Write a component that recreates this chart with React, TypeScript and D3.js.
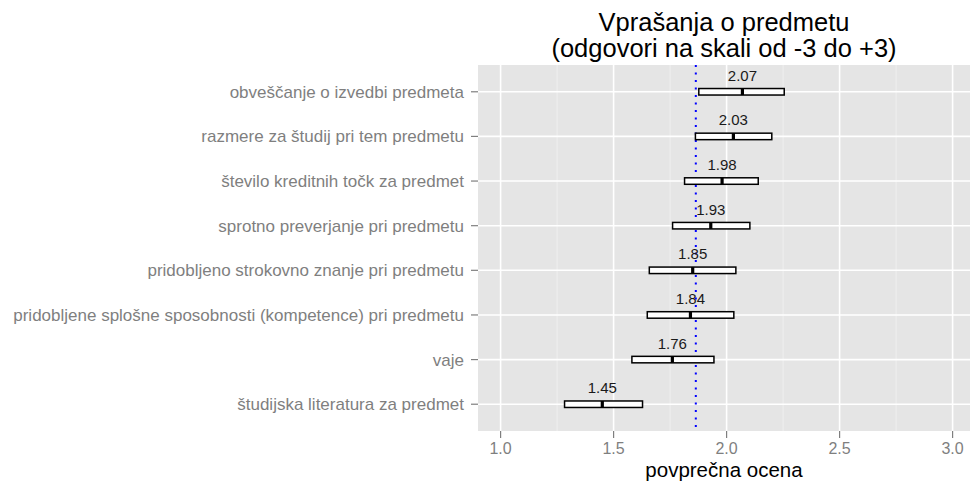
import React from "react";
import * as d3 from "d3";

const categories = [
  "obveščanje o izvedbi predmeta",
  "razmere za študij pri tem predmetu",
  "število kreditnih točk za predmet",
  "sprotno preverjanje pri predmetu",
  "pridobljeno strokovno znanje pri predmetu",
  "pridobljene splošne sposobnosti (kompetence) pri predmetu",
  "vaje",
  "študijska literatura za predmet",
];
const means = [2.07, 2.03, 1.98, 1.93, 1.85, 1.84, 1.76, 1.45];
const lower = [1.877, 1.862, 1.814, 1.761, 1.658, 1.649, 1.581, 1.283];
const upper = [2.255, 2.2, 2.14, 2.103, 2.041, 2.032, 1.944, 1.628];
const xTicks = [1.0, 1.5, 2.0, 2.5, 3.0];
const xMinor = [1.25, 1.75, 2.25, 2.75];
const titleLines = ["Vprašanja o predmetu", "(odgovori na skali od -3 do +3)"];
const xLabel = "povprečna ocena";

const W = 970;
const H = 482;
const panel = { left: 478, right: 970, top: 65, bottom: 431 };
const FONT = "'Liberation Sans', Arial, Helvetica, sans-serif";

export default function App() {
  const x = d3.scaleLinear().domain([0.9, 3.077]).range([panel.left, panel.right]);
  const y = d3.scalePoint<string>().domain(categories).range([panel.top, panel.bottom]).padding(0.6);
  const overall = d3.mean(means) as number;
  const boxH = 6.5;
  const cx = (panel.left + panel.right) / 2;

  return (
    <svg width={W} height={H} style={{ position: "absolute", left: 0, top: 0, background: "#fff" }} fontFamily={FONT}>
      <rect x={panel.left} y={panel.top} width={panel.right - panel.left} height={panel.bottom - panel.top} fill="#E5E5E5" />
      {xMinor.map((v) => (
        <line key={"mn" + v} x1={x(v)} x2={x(v)} y1={panel.top} y2={panel.bottom} stroke="#F2F2F2" strokeWidth={0.8} />
      ))}
      {xTicks.map((v) => (
        <line key={"mj" + v} x1={x(v)} x2={x(v)} y1={panel.top} y2={panel.bottom} stroke="#FFFFFF" strokeWidth={1.6} />
      ))}
      {categories.map((c) => (
        <line key={"hg" + c} x1={panel.left} x2={panel.right} y1={y(c)} y2={y(c)} stroke="#FFFFFF" strokeWidth={1.6} />
      ))}
      <line x1={x(overall)} x2={x(overall)} y1={panel.top} y2={panel.bottom} stroke="#0000FF" strokeWidth={2} strokeDasharray="2,5.5" />
      {categories.map((c, i) => {
        const cy = y(c) as number;
        return (
          <g key={"b" + c}>
            <rect x={x(lower[i])} y={cy - boxH / 2} width={x(upper[i]) - x(lower[i])} height={boxH} fill="#FFFFFF" stroke="#000" strokeWidth={1.5} />
            <line x1={x(means[i])} x2={x(means[i])} y1={cy - boxH / 2} y2={cy + boxH / 2} stroke="#000" strokeWidth={3.2} />
            <text x={x(means[i])} y={cy - 11} textAnchor="middle" fontSize={15} fill="#1A1A1A">
              {means[i].toFixed(2)}
            </text>
          </g>
        );
      })}
      {xTicks.map((v) => (
        <g key={"xt" + v}>
          <line x1={x(v)} x2={x(v)} y1={panel.bottom} y2={panel.bottom + 7} stroke="#7F7F7F" strokeWidth={1.2} />
          <text x={x(v)} y={panel.bottom + 23} textAnchor="middle" fontSize={16} fill="#7F7F7F">
            {v.toFixed(1)}
          </text>
        </g>
      ))}
      {categories.map((c) => (
        <g key={"yt" + c}>
          <line x1={panel.left - 7} x2={panel.left} y1={y(c)} y2={y(c)} stroke="#7F7F7F" strokeWidth={1.2} />
          <text x={panel.left - 14} y={(y(c) as number) + 6} textAnchor="end" fontSize={17} fill="#7F7F7F">
            {c}
          </text>
        </g>
      ))}
      <text x={cx} y={477} textAnchor="middle" fontSize={20.5} fill="#000">
        {xLabel}
      </text>
      {titleLines.map((t, i) => (
        <text key={"t" + i} x={cx} y={31 + i * 26} textAnchor="middle" fontSize={25.5} fill="#000">
          {t}
        </text>
      ))}
    </svg>
  );
}
